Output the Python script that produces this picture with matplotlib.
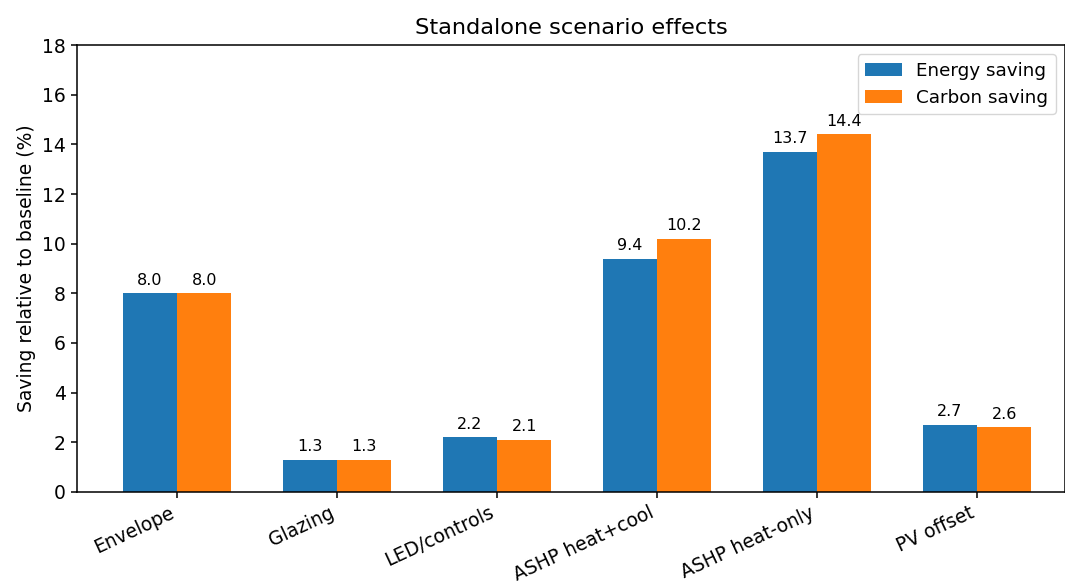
import matplotlib
matplotlib.use("Agg")
import matplotlib.pyplot as plt
import numpy as np

categories = ["Envelope", "Glazing", "LED/controls", "ASHP heat+cool", "ASHP heat-only", "PV offset"]
energy_saving = [8.0, 1.3, 2.2, 9.4, 13.7, 2.7]
carbon_saving = [8.0, 1.3, 2.1, 10.2, 14.4, 2.6]

fig = plt.figure(figsize=(10.65, 5.83), dpi=100)
ax = fig.add_axes([0.0723, 0.1561, 0.9277, 0.7667])
x = np.arange(len(categories))
w = 0.34
b1 = ax.bar(x - w/2, energy_saving, w, color="#1f77b4", label="Energy saving")
b2 = ax.bar(x + w/2, carbon_saving, w, color="#ff7f0e", label="Carbon saving")
ax.bar_label(b1, fmt="%.1f", padding=4, fontsize=11.5)
ax.bar_label(b2, fmt="%.1f", padding=4, fontsize=11.5)
ax.set_xlim(-0.625, 5.55)
ax.set_ylim(0, 18)
ax.set_yticks(range(0, 19, 2))
ax.set_xticks(x)
ax.set_xticklabels(categories, rotation=25, ha="right", fontsize=13.5)
ax.tick_params(axis="y", labelsize=13.5)
ax.tick_params(length=4.5, width=1.1)
for s in ax.spines.values():
    s.set_linewidth(1.1)
ax.set_ylabel("Saving relative to baseline (%)", fontsize=13.5)
ax.set_title("Standalone scenario effects", fontsize=16.2, pad=8)
ax.legend(loc="upper right", fontsize=13.2)
fig.savefig("out.png", dpi=100)
